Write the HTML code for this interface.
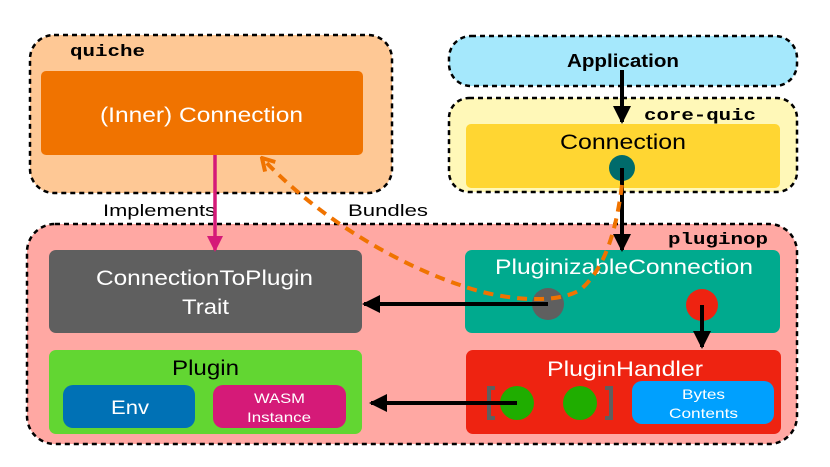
<!DOCTYPE html>
<html><head><meta charset="utf-8"><style>
html,body{margin:0;padding:0;background:#fff;}
svg{display:block;}
text{font-family:"Liberation Sans",sans-serif;}
.mono{font-family:"Liberation Mono",monospace;font-weight:bold;}
</style></head><body>
<svg width="830" height="467" viewBox="0 0 830 467" xmlns="http://www.w3.org/2000/svg">
<defs>
<marker id="ab" markerWidth="18" markerHeight="18" refX="16" refY="9" orient="auto" markerUnits="userSpaceOnUse"><path d="M0,0 L18,9 L0,18 z" fill="#000"/></marker>
<marker id="am" markerWidth="16" markerHeight="16" refX="14" refY="8" orient="auto" markerUnits="userSpaceOnUse"><path d="M0,0 L16,8 L0,16 z" fill="#d51a78"/></marker>
<marker id="ao" markerWidth="16" markerHeight="18" refX="14" refY="9" orient="auto" markerUnits="userSpaceOnUse"><path d="M2,2 L14,9 L2,16" fill="none" stroke="#f07300" stroke-width="4"/></marker>
</defs>
<!-- quiche -->
<rect x="30" y="35" width="362" height="158" rx="24" fill="#fec895" stroke="#000" stroke-width="2.5" stroke-dasharray="5,4"/>
<text x="70" y="56" class="mono" font-size="17" textLength="75" lengthAdjust="spacingAndGlyphs">quiche</text>
<rect x="41" y="71" width="322" height="84" rx="5" fill="#f07300"/>
<text x="100" y="122" font-size="21" fill="#fff" textLength="203" lengthAdjust="spacingAndGlyphs">(Inner) Connection</text>
<!-- Application -->
<rect x="449" y="36" width="348" height="50" rx="22" fill="#a5e8fc" stroke="#000" stroke-width="2.5" stroke-dasharray="5,4"/>
<text x="567" y="67" font-size="18" font-weight="bold" textLength="112" lengthAdjust="spacingAndGlyphs">Application</text>
<!-- core-quic -->
<rect x="449" y="98" width="348" height="94" rx="20" fill="#fff8b8" stroke="#000" stroke-width="2.5" stroke-dasharray="5,4"/>
<text x="644" y="120" class="mono" font-size="17" textLength="112" lengthAdjust="spacingAndGlyphs">core-quic</text>
<rect x="466" y="124" width="314" height="64" rx="5" fill="#ffd632"/>
<text x="560" y="149" font-size="21" textLength="126" lengthAdjust="spacingAndGlyphs">Connection</text>
<!-- pluginop -->
<rect x="27" y="224" width="770" height="220" rx="28" fill="#ffa8a3" stroke="#000" stroke-width="2.5" stroke-dasharray="5,4"/>
<text x="668" y="244" class="mono" font-size="17" textLength="100" lengthAdjust="spacingAndGlyphs">pluginop</text>
<rect x="49" y="250" width="313" height="83" rx="7" fill="#5f5f5f"/>
<text x="96" y="285" font-size="21" fill="#fff" textLength="217" lengthAdjust="spacingAndGlyphs">ConnectionToPlugin</text>
<text x="182" y="314" font-size="21" fill="#fff" textLength="47" lengthAdjust="spacingAndGlyphs">Trait</text>
<rect x="49" y="350" width="313" height="84" rx="7" fill="#62d632"/>
<text x="172" y="375" font-size="21" textLength="67" lengthAdjust="spacingAndGlyphs">Plugin</text>
<rect x="63" y="385" width="132" height="43" rx="10" fill="#0071b5"/>
<text x="111" y="414" font-size="19" fill="#fff" textLength="38" lengthAdjust="spacingAndGlyphs">Env</text>
<rect x="213" y="385" width="133" height="43" rx="10" fill="#d51a78"/>
<text x="254" y="403" font-size="14" fill="#fff" textLength="51" lengthAdjust="spacingAndGlyphs">WASM</text>
<text x="247" y="422" font-size="14" fill="#fff" textLength="64" lengthAdjust="spacingAndGlyphs">Instance</text>
<rect x="465" y="250" width="315" height="83" rx="7" fill="#00aa8e"/>
<text x="495" y="274" font-size="21" fill="#fff" textLength="258" lengthAdjust="spacingAndGlyphs">PluginizableConnection</text>
<circle cx="548" cy="304" r="16" fill="#5f5f5f"/>
<circle cx="702" cy="305" r="16" fill="#ee2311"/>
<rect x="466" y="350" width="315" height="84" rx="7" fill="#ee2311"/>
<text x="547" y="376" font-size="21" fill="#fff" textLength="156" lengthAdjust="spacingAndGlyphs">PluginHandler</text>
<path d="M495,388 h-6 v30 h6" fill="none" stroke="#5f5f5f" stroke-width="4"/>
<path d="M605,388 h6 v30 h-6" fill="none" stroke="#5f5f5f" stroke-width="4"/>
<circle cx="517" cy="403" r="17" fill="#1fad00"/>
<circle cx="580" cy="403" r="17" fill="#1fad00"/>
<rect x="632" y="381" width="142" height="43" rx="10" fill="#00a0fe"/>
<text x="682" y="399" font-size="14" fill="#fff" textLength="43" lengthAdjust="spacingAndGlyphs">Bytes</text>
<text x="669" y="418" font-size="14" fill="#fff" textLength="69" lengthAdjust="spacingAndGlyphs">Contents</text>
<!-- teal circle -->
<circle cx="622" cy="168" r="13" fill="#006b6b"/>
<!-- labels -->
<text x="103" y="216" font-size="17" textLength="113" lengthAdjust="spacingAndGlyphs">Implements</text>
<text x="348" y="216" font-size="17" textLength="80" lengthAdjust="spacingAndGlyphs">Bundles</text>
<!-- arrows -->
<line x1="622" y1="70" x2="622" y2="122" stroke="#000" stroke-width="4" marker-end="url(#ab)"/>
<line x1="622" y1="168" x2="622" y2="250" stroke="#000" stroke-width="4" marker-end="url(#ab)"/>
<line x1="548" y1="304" x2="364" y2="304" stroke="#000" stroke-width="4" marker-end="url(#ab)"/>
<line x1="702" y1="305" x2="702" y2="347" stroke="#000" stroke-width="4" marker-end="url(#ab)"/>
<line x1="517" y1="403" x2="371" y2="403" stroke="#000" stroke-width="4" marker-end="url(#ab)"/>
<line x1="215" y1="155" x2="215" y2="250" stroke="#d51a78" stroke-width="3.5" marker-end="url(#am)"/>
<path d="M622,185 C618,215 610,265 580,290 C555,305 500,300 460,285 C400,265 320,220 262,158" fill="none" stroke="#f07300" stroke-width="4" stroke-dasharray="10,7" marker-end="url(#ao)"/>
</svg>
</body></html>
